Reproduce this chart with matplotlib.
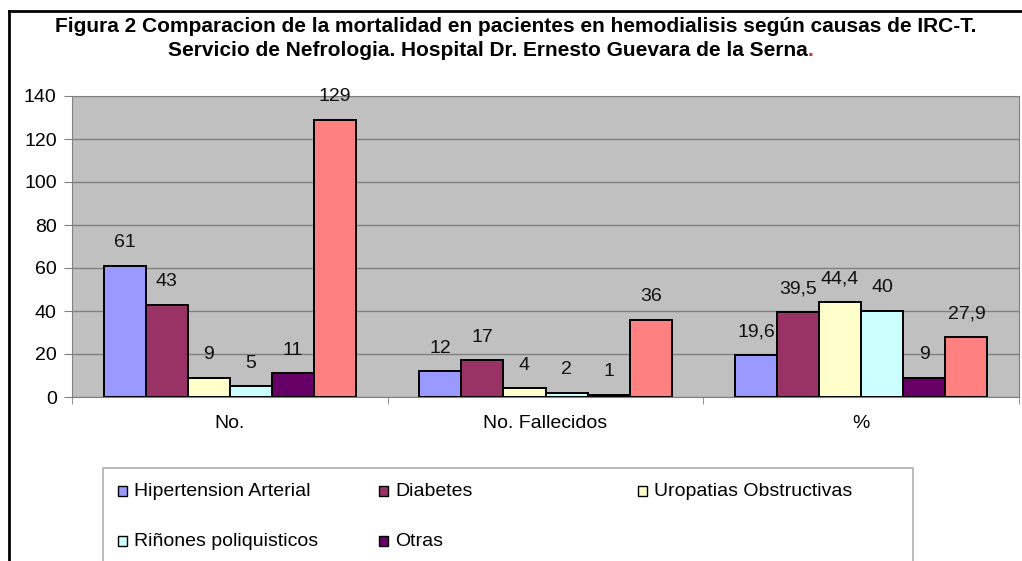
import matplotlib
matplotlib.use("Agg")
import matplotlib.pyplot as plt
from matplotlib.patches import Rectangle
from matplotlib.lines import Line2D
import numpy as np

plt.rcParams['font.family'] = ['Liberation Sans', 'DejaVu Sans']

categories = ["No.", "No. Fallecidos", "%"]
series_names = ["Hipertension Arterial", "Diabetes", "Uropatias Obstructivas",
                "Riñones poliquisticos", "Otras", None]
hipertension = [61, 12, 19.6]
diabetes = [43, 17, 39.5]
uropatias = [9, 4, 44.4]
rinones = [5, 2, 40]
otras = [11, 1, 9]
sexta = [129, 36, 27.9]
series_values = [hipertension, diabetes, uropatias, rinones, otras, sexta]
colors = ["#9999FF", "#993366", "#FFFFCC", "#CCFFFF", "#660066", "#FF8080"]
yticks = [0, 20, 40, 60, 80, 100, 120, 140]

FS = 14
TFS = 15
W, H = 1022, 561
fig = plt.figure(figsize=(W / 100, H / 100), dpi=100)
ax = fig.add_axes([72 / W, 1 - 397 / H, (1019 - 72) / W, (397 - 96) / H])
ax.set_facecolor("#C0C0C0")

x = np.arange(len(categories))
n = len(series_values)
bw = 0.8 / n
for i, (vals, col) in enumerate(zip(series_values, colors)):
    pos = x - 0.4 + bw * (i + 0.5)
    ax.bar(pos, vals, width=bw, color=col, edgecolor="black", linewidth=1.4, zorder=3)
    for px, v in zip(pos, vals):
        lab = f"{v:g}".replace(".", ",")
        ax.annotate(lab, (px, v), xytext=(0, 23), textcoords="offset pixels",
                    ha="center", va="center", fontsize=FS, color="#111111", zorder=4)

ax.set_xlim(-0.5, len(categories) - 0.5)
ax.set_ylim(0, 140)
ax.set_yticks(yticks)
ax.set_yticklabels([str(t) for t in yticks], fontsize=FS)
ax.yaxis.grid(True, color="#808080", linewidth=1.0, zorder=1)
ax.set_axisbelow(True)
ax.set_xticks(x)
ax.set_xticklabels(categories, fontsize=FS)
ax.tick_params(axis="x", length=0, pad=13)
ax.set_xticks(np.arange(len(categories) + 1) - 0.5, minor=True)
ax.tick_params(axis="x", which="minor", length=5, color="#808080")
ax.tick_params(axis="y", length=6, color="#808080", pad=5)
for s in ["top", "right", "left", "bottom"]:
    ax.spines[s].set_color("#808080")

# Title
fig.text(516 / W, 1 - 26 / H,
         "Figura 2 Comparacion de la mortalidad en pacientes en hemodialisis según causas de IRC-T.",
         ha="center", va="center", fontsize=TFS, fontweight="bold")
t2 = fig.text(488 / W, 1 - 50 / H,
              "Servicio de Nefrologia. Hospital Dr. Ernesto Guevara de la Serna",
              ha="center", va="center", fontsize=TFS, fontweight="bold")
fig.canvas.draw()
bb = t2.get_window_extent()
fig.text(bb.x1 / W, 1 - 50 / H, ".", ha="left", va="center", fontsize=TFS,
         fontweight="bold", color="#CC3333")

# Frame lines
fig.add_artist(Line2D([9 / W, 9 / W], [0, 1 - 11 / H], color="black", linewidth=2))
fig.add_artist(Line2D([9 / W, 1], [1 - 11 / H, 1 - 11 / H], color="black", linewidth=2))

# Legend (manual, 3 columns)
fig.add_artist(Rectangle((103 / W, -0.05), (913 - 103) / W, 0.05 + 1 - 468 / H,
                         transform=fig.transFigure, facecolor="white",
                         edgecolor="#B0B0B0", linewidth=1.2))
col_x = [118, 379, 638]
row_y = [491, 541]
k = 0
for name, col in zip(series_names, colors):
    if name is None:
        continue
    r, c = divmod(k, 3)
    mx, my = col_x[c], row_y[r]
    fig.add_artist(Rectangle((mx / W, 1 - (my + 5) / H), 9 / W, 10 / H,
                             transform=fig.transFigure, facecolor=col,
                             edgecolor="black", linewidth=1.0))
    fig.text((mx + 16) / W, 1 - my / H, name, ha="left", va="center", fontsize=FS)
    k += 1

fig.savefig("out.png", dpi=100)
